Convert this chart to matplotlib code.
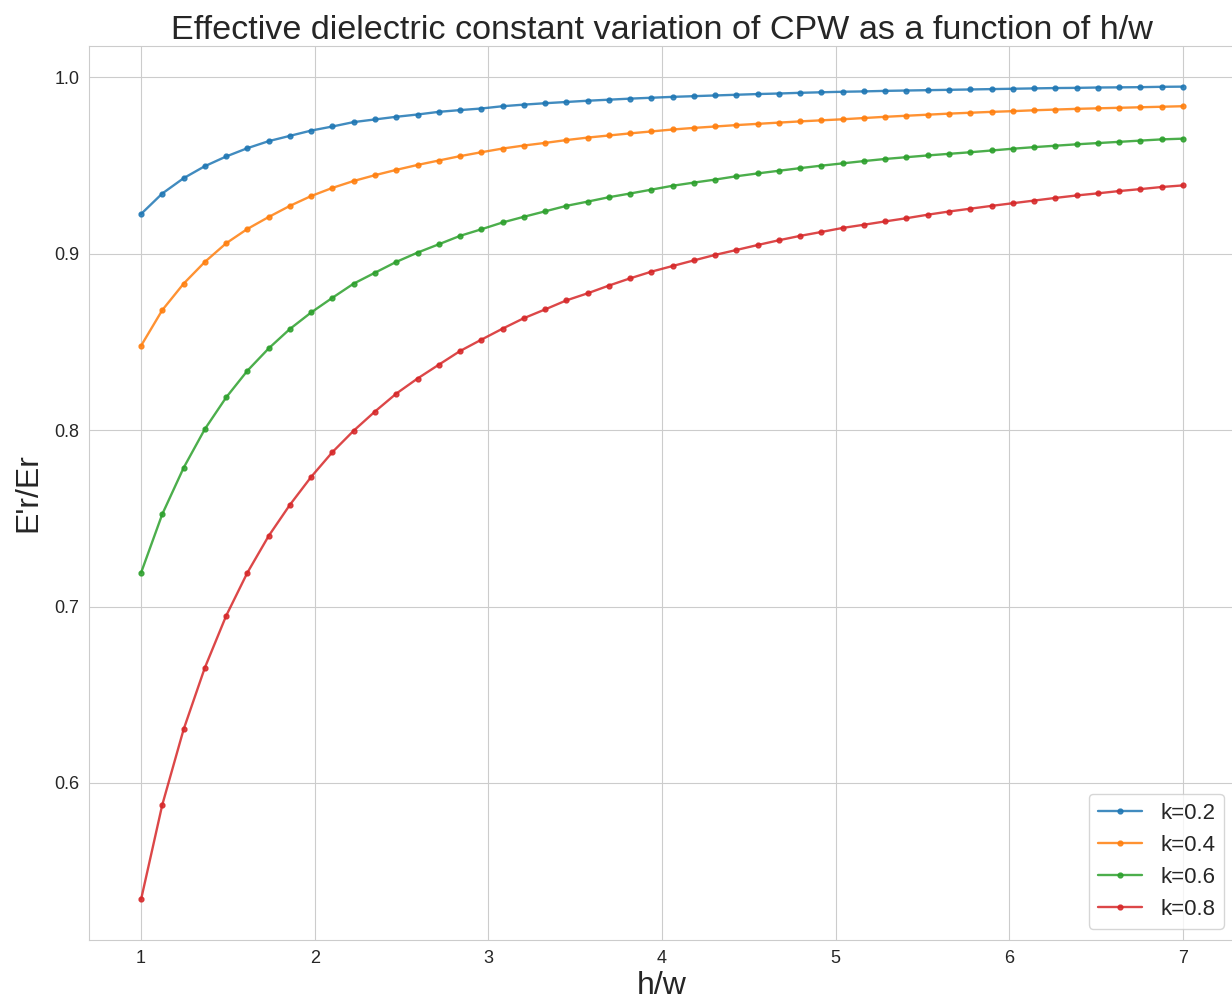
import matplotlib
matplotlib.use("Agg")
import matplotlib.pyplot as plt
import seaborn as sns

hw = [1.000, 1.122, 1.245, 1.367, 1.490, 1.612, 1.735, 1.857, 1.980, 2.102,
      2.224, 2.347, 2.469, 2.592, 2.714, 2.837, 2.959, 3.082, 3.204, 3.327,
      3.449, 3.571, 3.694, 3.816, 3.939, 4.061, 4.184, 4.306, 4.429, 4.551,
      4.673, 4.796, 4.918, 5.041, 5.163, 5.286, 5.408, 5.531, 5.653, 5.776,
      5.898, 6.020, 6.143, 6.265, 6.388, 6.510, 6.633, 6.755, 6.878, 7.000]

k02 = [0.9226, 0.9342, 0.9429, 0.9497, 0.9552, 0.9599, 0.9639, 0.9669, 0.9699, 0.9722,
       0.9747, 0.9762, 0.9777, 0.9790, 0.9805, 0.9815, 0.9824, 0.9837, 0.9846, 0.9854,
       0.9861, 0.9868, 0.9874, 0.9880, 0.9885, 0.9890, 0.9894, 0.9898, 0.9902, 0.9906,
       0.9909, 0.9913, 0.9916, 0.9919, 0.9921, 0.9924, 0.9926, 0.9928, 0.9930, 0.9932,
       0.9934, 0.9936, 0.9938, 0.9940, 0.9941, 0.9943, 0.9944, 0.9945, 0.9947, 0.9948]

k04 = [0.8479, 0.8681, 0.8831, 0.8954, 0.9060, 0.9141, 0.9209, 0.9272, 0.9328, 0.9374,
       0.9413, 0.9446, 0.9476, 0.9504, 0.9529, 0.9554, 0.9576, 0.9597, 0.9614, 0.9629,
       0.9645, 0.9659, 0.9671, 0.9683, 0.9694, 0.9705, 0.9714, 0.9722, 0.9730, 0.9737,
       0.9744, 0.9751, 0.9757, 0.9763, 0.9770, 0.9777, 0.9783, 0.9789, 0.9795, 0.9800,
       0.9805, 0.9809, 0.9814, 0.9818, 0.9822, 0.9825, 0.9828, 0.9831, 0.9834, 0.9837]

k06 = [0.7192, 0.7524, 0.7787, 0.8006, 0.8186, 0.8337, 0.8464, 0.8574, 0.8668, 0.8751,
       0.8831, 0.8893, 0.8954, 0.9007, 0.9054, 0.9102, 0.9139, 0.9178, 0.9210, 0.9241,
       0.9272, 0.9296, 0.9321, 0.9342, 0.9364, 0.9386, 0.9404, 0.9421, 0.9440, 0.9456,
       0.9471, 0.9486, 0.9500, 0.9513, 0.9526, 0.9538, 0.9548, 0.9558, 0.9567, 0.9576,
       0.9586, 0.9596, 0.9605, 0.9613, 0.9621, 0.9628, 0.9635, 0.9642, 0.9649, 0.9653]

k08 = [0.5340, 0.5876, 0.6304, 0.6653, 0.6948, 0.7192, 0.7401, 0.7577, 0.7736, 0.7876,
       0.7997, 0.8106, 0.8207, 0.8293, 0.8371, 0.8449, 0.8513, 0.8576, 0.8635, 0.8685,
       0.8736, 0.8776, 0.8820, 0.8861, 0.8899, 0.8931, 0.8963, 0.8994, 0.9022, 0.9050,
       0.9077, 0.9102, 0.9124, 0.9147, 0.9165, 0.9184, 0.9202, 0.9222, 0.9240, 0.9256,
       0.9272, 0.9287, 0.9302, 0.9317, 0.9331, 0.9343, 0.9356, 0.9367, 0.9379, 0.9388]

labels = ["k=0.2", "k=0.4", "k=0.6", "k=0.8"]
series = [k02, k04, k06, k08]

sns.set_style("whitegrid")
plt.rcParams['font.family'] = ['Liberation Sans', 'DejaVu Sans']

W, H = 1232, 1007
fig = plt.figure(figsize=(W / 100, H / 100), dpi=100)
ax = fig.add_axes([89 / W, (H - 940) / H, (1235 - 89) / W, (940 - 46) / H])

for lab, ys in zip(labels, series):
    ax.plot(hw, ys, marker='.', linewidth=1.7, markersize=7, alpha=0.85, label=lab)

ax.set_title("Effective dielectric constant variation of CPW as a function of h/w",
             fontsize=24.6, color='.15', pad=5)
ax.set_xlabel("h/w", fontsize=23, color='.15', labelpad=3)
ax.set_ylabel("E'r/Er", fontsize=23, color='.15', labelpad=8)
ax.tick_params(axis='both', labelsize=13, colors='.15')
ax.set_yticks([0.6, 0.7, 0.8, 0.9, 1.0])
ax.legend(loc='lower right', fontsize=16, borderaxespad=0.5)
for s in ax.spines.values():
    s.set_color('.8')

fig.savefig("out.png", dpi=100)
